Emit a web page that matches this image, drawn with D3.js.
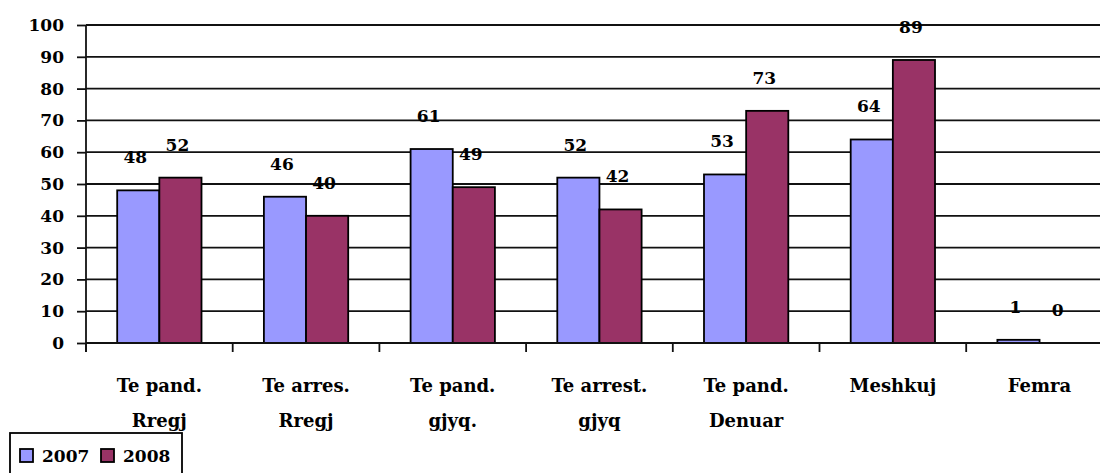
<!DOCTYPE html>
<html>
<head>
<meta charset="utf-8">
<script src="https://cdn.jsdelivr.net/npm/d3@7"></script>
<style>
  body { margin: 0; background: #fff; }
</style>
</head>
<body>
<div id="chart1"></div>
<script>

// data
var categories = [["Te pand.", "Rregj"], ["Te arres.", "Rregj"], ["Te pand.", "gjyq."], ["Te arrest.", "gjyq"], ["Te pand.", "Denuar"], ["Meshkuj"], ["Femra"]];
var years = ["2007", "2008"];
var values2007 = [48, 46, 61, 52, 53, 64, 1];
var values2008 = [52, 40, 49, 42, 73, 89, 0];
var yTicks = [0, 10, 20, 30, 40, 50, 60, 70, 80, 90, 100];
var colors = ["#9999ff", "#993366"];

var w = 1100;
var h = 473;
var fontFam = "'DejaVu Serif', serif";

var svg = d3.select("#chart1")
    .append("svg")
    .attr("width", w)
    .attr("height", h)
    .style("font-family", fontFam)
    .style("font-weight", "bold");

var xScale = d3.scaleBand()
    .domain(d3.range(categories.length))
    .range([86, 86 + 7 * 146.7])
    .paddingInner(0)
    .paddingOuter(0);

var xSub = d3.scaleBand()
    .domain(years)
    .range([0, xScale.bandwidth()])
    .paddingInner(0)
    .paddingOuter(0.74);

var yScale = d3.scaleLinear()
    .domain([0, 100])
    .range([343, 25]);

//gridlines + y labels
var yAxis = svg.append("g")
    .attr("transform", "translate(86,0)")
    .call(d3.axisLeft(yScale).tickValues(yTicks).tickSize(9).tickPadding(13).tickFormat(d3.format("d")));
yAxis.attr("font-family", null).attr("font-size", null);
yAxis.select(".domain").remove();
yAxis.selectAll(".tick line").attr("stroke", "#111").attr("stroke-width", 1.8);
yAxis.selectAll(".tick text").style("font-size", "17px").style("font-family", fontFam);

svg.append("g")
    .selectAll("line")
    .data(yTicks)
    .enter()
    .append("line")
    .attr("x1", 86)
    .attr("x2", w)
    .attr("y1", function(d) { return yScale(d); })
    .attr("y2", function(d) { return yScale(d); })
    .attr("stroke", "#111")
    .attr("stroke-width", 1.8);

// bars
var series = [values2007, values2008];
var groups = svg.append("g")
    .selectAll("g")
    .data(categories)
    .enter()
    .append("g")
    .attr("transform", function(d, i) { return "translate(" + xScale(i) + ",0)"; });

groups.each(function(c, i) {
    var g = d3.select(this);
    years.forEach(function(yr, k) {
        var v = series[k][i];
        if (v > 0) {
            g.append("rect")
                .attr("x", xSub(yr))
                .attr("y", yScale(v))
                .attr("width", xSub.bandwidth())
                .attr("height", yScale(0) - yScale(v))
                .attr("fill", colors[k])
                .attr("stroke", "#000")
                .attr("stroke-width", 1.8);
        }
        g.append("text")
            .attr("x", xSub(yr) + xSub.bandwidth() / 2 - 3)
            .attr("y", yScale(v) - 27)
            .attr("text-anchor", "middle")
            .style("font-size", "17px")
            .text(v);
    });
});

// x axis
var xAxis = svg.append("g")
    .attr("transform", "translate(0,343)");
xAxis.append("line")
    .attr("x1", 86).attr("x2", w)
    .attr("y1", 0).attr("y2", 0)
    .attr("stroke", "#111").attr("stroke-width", 1.8);
xAxis.selectAll(".ctick")
    .data(d3.range(categories.length + 1))
    .enter()
    .append("line")
    .attr("x1", function(i) { return 86 + i * xScale.step(); })
    .attr("x2", function(i) { return 86 + i * xScale.step(); })
    .attr("y1", 0).attr("y2", 9)
    .attr("stroke", "#111").attr("stroke-width", 1.8);

// y axis line
svg.append("line")
    .attr("x1", 86).attr("x2", 86)
    .attr("y1", yScale(100)).attr("y2", 352)
    .attr("stroke", "#111").attr("stroke-width", 1.8);

// category labels
groups.each(function(c, i) {
    var t = d3.select(this).append("text")
        .attr("x", xScale.bandwidth() / 2)
        .attr("y", 392)
        .attr("text-anchor", "middle")
        .style("font-size", "18px");
    c.forEach(function(line, j) {
        t.append("tspan")
            .attr("x", xScale.bandwidth() / 2)
            .attr("y", 392 + j * 35)
            .text(line);
    });
});

// legend
var legend = svg.append("g").attr("transform", "translate(10,433)");
legend.append("rect")
    .attr("x", 0).attr("y", 0)
    .attr("width", 172).attr("height", 45)
    .attr("fill", "#fff")
    .attr("stroke", "#000").attr("stroke-width", 1.8);
var lx = [10, 91];
years.forEach(function(yr, k) {
    legend.append("rect")
        .attr("x", lx[k]).attr("y", 16)
        .attr("width", 13).attr("height", 13)
        .attr("fill", colors[k])
        .attr("stroke", "#000").attr("stroke-width", 1.8);
    legend.append("text")
        .attr("x", lx[k] + 22).attr("y", 29)
        .style("font-size", "17px")
        .text(yr);
});

</script>
</body>
</html>
